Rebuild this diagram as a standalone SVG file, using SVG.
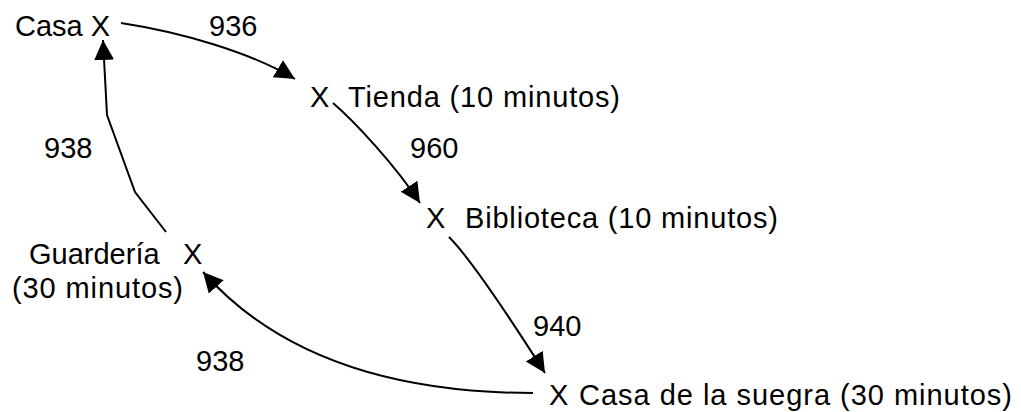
<svg xmlns="http://www.w3.org/2000/svg" width="1021" height="412" viewBox="0 0 1021 412">
  <style>
    text { font-family: "Liberation Sans", Arial, sans-serif; font-size: 29px; fill: #000; }
    .edge { fill: none; stroke: #000; stroke-width: 2; }
  </style>
  <defs>
    <marker id="arrow" markerUnits="userSpaceOnUse" markerWidth="22" markerHeight="22" refX="20" refY="10" orient="auto" viewBox="0 0 22 22">
      <path d="M0,0 L20,10 L0,20 Z" fill="#000"/>
    </marker>
  </defs>
  <rect width="1021" height="412" fill="#fff"/>

  <g id="connectors">
    <path class="edge" d="M121,23 C180,32 250,52 295,79" marker-end="url(#arrow)"/>
    <path class="edge" d="M333,103 C355,122 395,165 420,203" marker-end="url(#arrow)"/>
    <path class="edge" d="M449,237 C470,258 510,318 545,373" marker-end="url(#arrow)"/>
    <path class="edge" d="M533,393 C420,393 290,370 203,272" marker-end="url(#arrow)"/>
    <path class="edge" d="M166,232 L135,192 L107,115 L103,40" marker-end="url(#arrow)"/>
    <text x="209" y="36">936</text>
    <text x="410" y="158">960</text>
    <text x="533" y="336">940</text>
    <text x="196" y="371">938</text>
    <text x="44" y="158">938</text>
  </g>

  <g id="casa">
    <text x="15" y="36">Casa X</text>
  </g>
  <g id="tienda">
    <text x="310" y="107">X</text>
    <text x="348" y="107" textLength="272" lengthAdjust="spacing">Tienda (10 minutos)</text>
  </g>
  <g id="biblioteca">
    <text x="426" y="228">X</text>
    <text x="465" y="228" textLength="313" lengthAdjust="spacing">Biblioteca (10 minutos)</text>
  </g>
  <g id="suegra">
    <text x="549" y="405">X</text>
    <text x="579" y="405" textLength="433" lengthAdjust="spacing">Casa de la suegra (30 minutos)</text>
  </g>
  <g id="guarderia">
    <text x="29" y="264">Guardería</text>
    <text x="183" y="264">X</text>
    <text x="12" y="298" textLength="171" lengthAdjust="spacing">(30 minutos)</text>
  </g>
</svg>
